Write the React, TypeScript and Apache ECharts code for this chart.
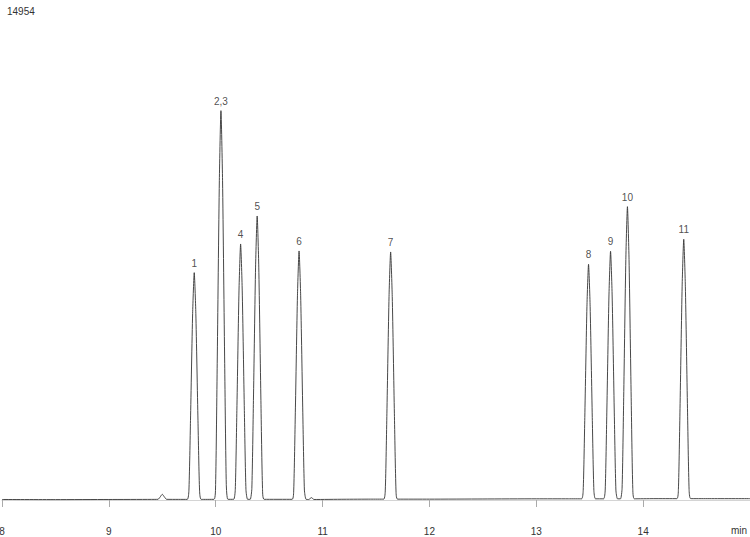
import React, { useEffect, useRef } from 'react';
import * as echarts from 'echarts';

// detector trace (minutes, signal counts)
const traceMinutes = [
  8.0, 8.5, 9.0, 9.4, 9.46, 9.48, 9.5, 9.52, 9.54, 9.65,
  9.734, 9.749, 9.764, 9.784, 9.799, 9.814, 9.834, 9.849, 9.864,
  9.984, 9.999, 10.014, 10.034, 10.049, 10.064, 10.084, 10.099, 10.114,
  10.168, 10.183, 10.198, 10.218, 10.233, 10.248, 10.268, 10.283, 10.298,
  10.323, 10.338, 10.353, 10.373, 10.388, 10.403, 10.423, 10.438, 10.453,
  10.715, 10.730, 10.745, 10.765, 10.780, 10.795, 10.815, 10.830, 10.845,
  10.87, 10.896, 10.92, 11.2, 11.45,
  11.572, 11.587, 11.602, 11.622, 11.637, 11.652, 11.672, 11.687, 11.702,
  12.0, 12.5, 13.0, 13.3,
  13.424, 13.439, 13.454, 13.474, 13.489, 13.504, 13.524, 13.539, 13.554,
  13.630, 13.645, 13.660, 13.680, 13.695, 13.710, 13.730, 13.745, 13.760,
  13.788, 13.803, 13.818, 13.838, 13.853, 13.868, 13.888, 13.903, 13.918,
  14.1, 14.315, 14.330, 14.345, 14.365, 14.380, 14.395, 14.415, 14.430, 14.445,
  14.6, 15.0,
];

const traceSignal = [
  15, 12, 15, 18, 20, 90, 170, 90, 20, 18,
  18, 272, 2380, 5575, 6799, 5575, 2380, 272, 18,
  20, 466, 4075, 9548, 11644, 9548, 4075, 466, 20,
  20, 306, 2680, 6279, 7657, 6279, 2680, 306, 20,
  20, 340, 2973, 6965, 8494, 6965, 2973, 340, 20,
  20, 298, 2607, 6107, 7448, 6107, 2607, 298, 20,
  15, 70, 15, 22, 25,
  25, 297, 2596, 6083, 7418, 6083, 2596, 297, 25,
  25, 30, 35, 35,
  35, 282, 2468, 5781, 7050, 5781, 2468, 282, 35,
  35, 298, 2604, 6100, 7439, 6100, 2604, 298, 35,
  35, 351, 3071, 7194, 8773, 7194, 3071, 351, 35,
  40, 40, 312, 2729, 6394, 7798, 6394, 2729, 312, 40,
  40, 40,
];

const peakLabels = ['1', '2,3', '4', '5', '6', '7', '8', '9', '10', '11'];
const peakMinutes = [9.799, 10.049, 10.233, 10.388, 10.78, 11.637, 13.489, 13.695, 13.853, 14.38];
const peakHeights = [6799, 11644, 7657, 8494, 7448, 7418, 7050, 7439, 8773, 7798];

const fullScale = 14954;
const xTicks = [8, 9, 10, 11, 12, 13, 14];

const font = '"Liberation Sans", Arial, sans-serif';

export default function App() {
  const chartRef = useRef<HTMLDivElement>(null);

  useEffect(() => {
    if (!chartRef.current) return;
    document.body.style.margin = '0';
    const chart = echarts.init(chartRef.current, undefined, { renderer: 'svg' });

    chart.setOption({
      animation: false,
      backgroundColor: '#ffffff',
      textStyle: { fontFamily: font },
      title: {
        text: String(fullScale),
        left: 2,
        top: 1,
        textStyle: { fontSize: 10, fontWeight: 'normal', color: '#333', fontFamily: font },
      },
      grid: { left: 2, right: 0, top: 0, bottom: 33, containLabel: false, outerBoundsMode: 'none' },
      xAxis: {
        type: 'value',
        min: 8,
        max: 15,
        interval: 1,
        axisLine: { lineStyle: { color: '#d4d4d4', width: 1 } },
        axisTick: { show: true, length: 7, lineStyle: { color: '#aaa' } },
        axisLabel: {
          margin: 22,
          fontSize: 10,
          color: '#333',
          fontFamily: font,
          showMaxLabel: false,
          formatter: (v: number) => (xTicks.includes(v) ? String(v) : ''),
        },
        splitLine: { show: false },
      },
      yAxis: {
        type: 'value',
        min: -120,
        max: fullScale,
        show: false,
        splitLine: { show: false },
      },
      graphic: [
        {
          type: 'text',
          right: 3,
          top: 525,
          style: { text: 'min', fontSize: 10, fill: '#333', fontFamily: font },
        },
      ],
      series: [
        {
          type: 'line',
          data: traceMinutes.map((t, i) => [t, traceSignal[i]]),
          showSymbol: false,
          smooth: 0.2,
          lineStyle: { color: '#333', width: 0.9 },
          silent: true,
        },
        {
          type: 'scatter',
          data: peakMinutes.map((t, i) => ({ value: [t, peakHeights[i]], name: peakLabels[i] })),
          symbolSize: 1,
          itemStyle: { color: 'rgba(0,0,0,0)' },
          label: {
            show: true,
            position: 'top',
            distance: 4,
            formatter: (p: any) => p.name,
            fontSize: 10,
            color: '#222',
            fontFamily: font,
          },
          silent: true,
        },
      ],
    });

    return () => {
      chart.dispose();
    };
  }, []);

  return <div ref={chartRef} style={{ width: 750, height: 537 }} />;
}
